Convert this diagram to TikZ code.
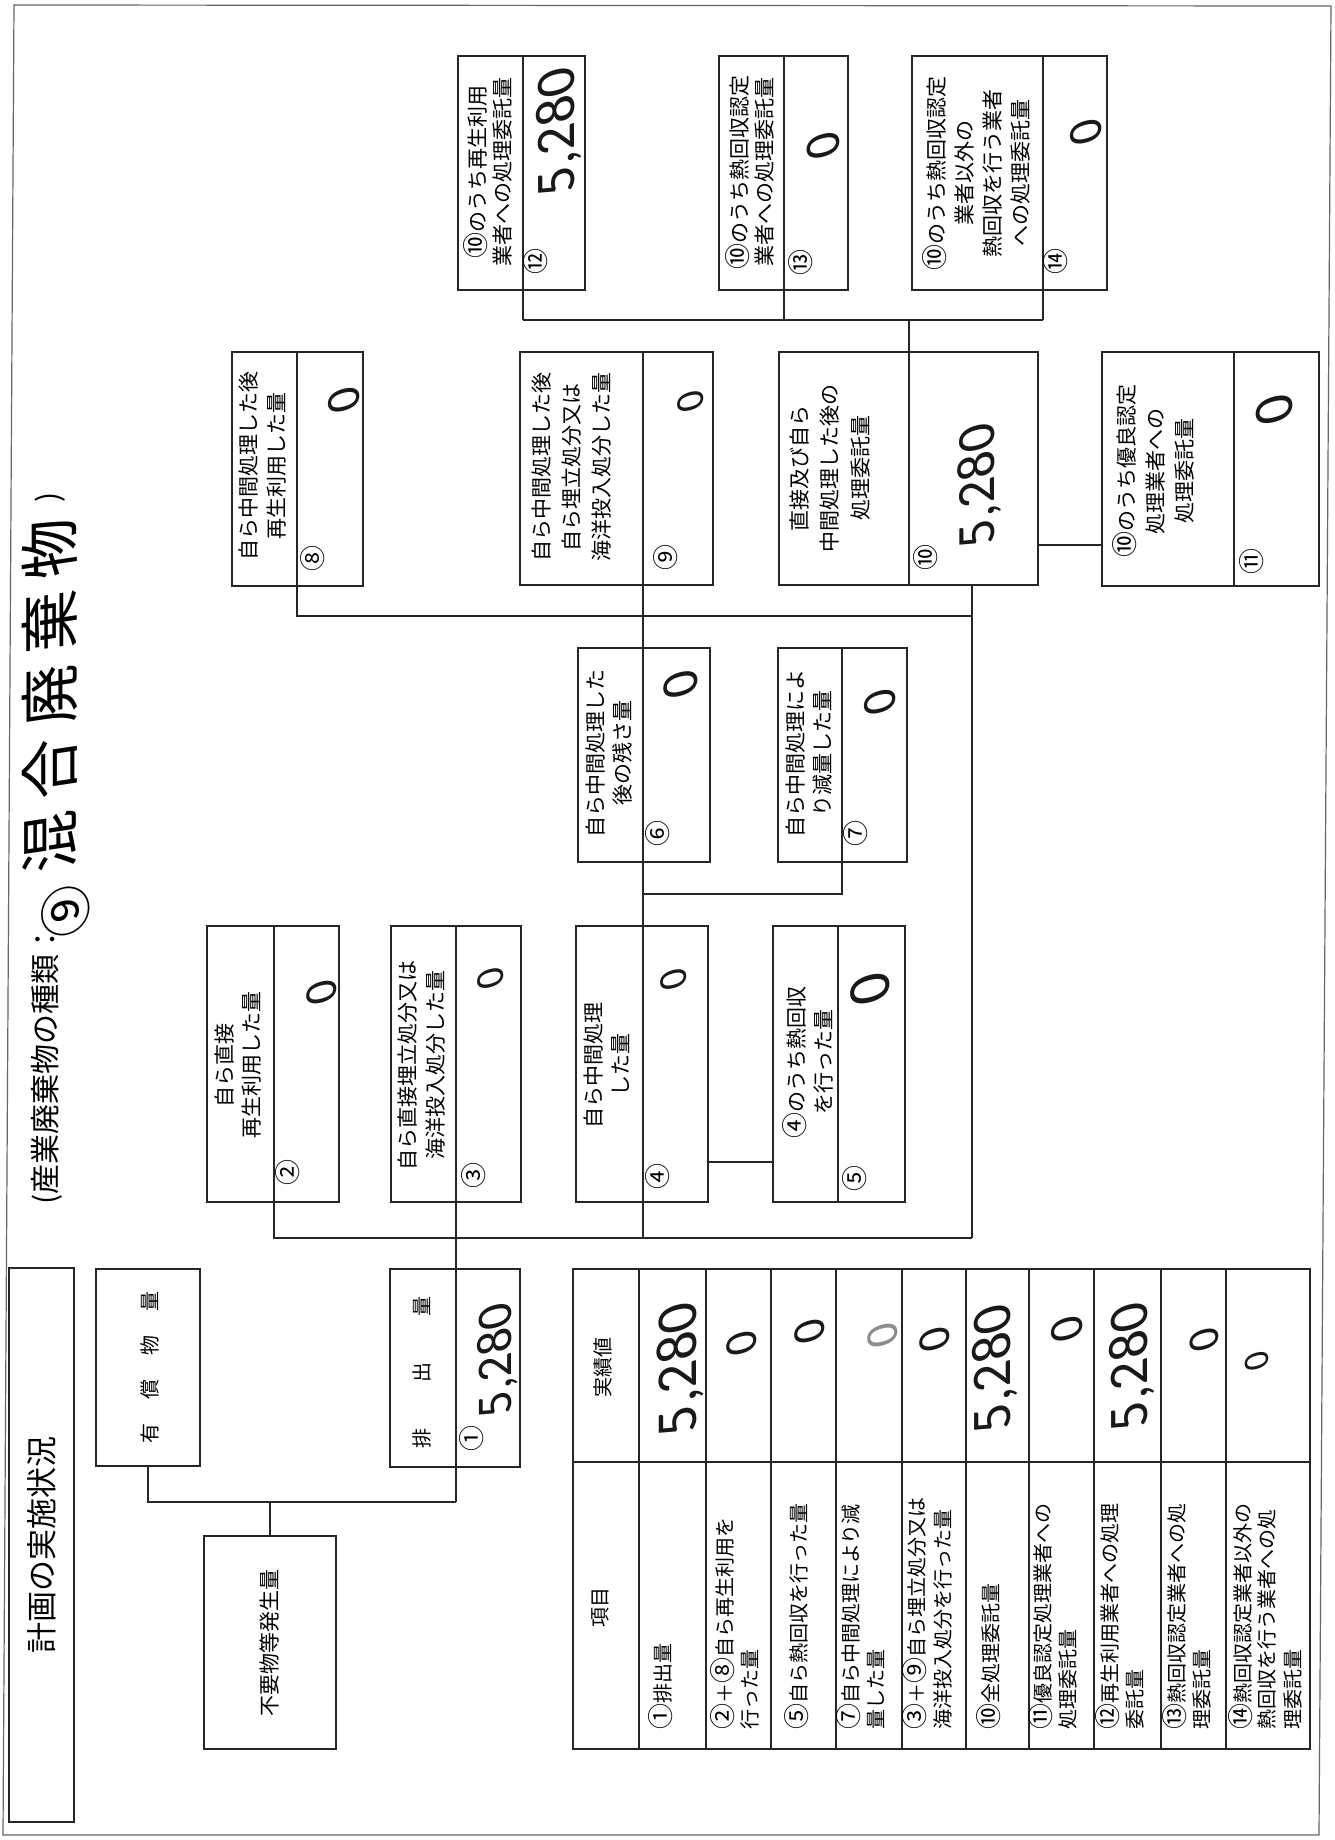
\documentclass[tikz,border=0pt]{standalone}
\usepackage{fontspec}
\newfontfamily\jp{Noto Sans CJK JP}
\newfontfamily\hw{Carlito}[FakeSlant=-0.25]
\newfontfamily\hwjp{Noto Sans CJK JP}[FakeSlant=-0.15]
\newcommand\cc[1]{{\fontsize{26}{26}\selectfont#1}}
\tikzset{
  ln/.style={draw=black!85, line width=1.4pt},
  frm/.style={draw=black!60, line width=1.2pt},
  boxn/.style={draw=black!85, line width=1.4pt, inner sep=0pt, outer sep=0pt, anchor=north west},
  lbl/.style={rotate=90, inner sep=0pt, align=center, font=\jp\fontsize{21}{27}\selectfont},
  cn/.style={rotate=90, inner sep=0pt, font=\jp\fontsize{26}{26}\selectfont},
  hd/.style={rotate=90, inner sep=0pt, font=\jp\fontsize{20}{20}\selectfont},
  row/.style={rotate=90, inner sep=0pt, anchor=west, font=\jp\fontsize{20}{20}\selectfont},
  hv/.style={rotate=90, inner sep=0pt, text=black!90, font=\hw\fontsize{#1}{#1}\selectfont},
}
\newcommand\formbox[6]{%
  \node[boxn, minimum width={(#4-#2)*1pt}, minimum height={(#5-#3)*1pt}] (#1) at (#2,#3) {};
  \coordinate (#1t) at (#6,#3);
  \coordinate (#1b) at (#6,#5);
}
\newcommand\plainbox[5]{%
  \node[boxn, minimum width={(#4-#2)*1pt}, minimum height={(#5-#3)*1pt}] (#1) at (#2,#3) {};
}
\begin{document}
\begin{tikzpicture}[x=1pt,y=-1pt]
\useasboundingbox (0,0) rectangle (1334,1840);
\fill[white] (0,0) rectangle (1334,1840);
% outer frame
\draw[frm] (14,5) -- (1331,6) -- (1319,1835) -- (3,1835) -- cycle;

% boxes
\plainbox{kk}{9}{1268}{74}{1822}
\plainbox{yu}{96}{1269}{200}{1466}
\formbox{hai}{390}{1269}{520}{1467}{456}
\plainbox{fu}{204}{1536}{336}{1749}
\formbox{b2}{207}{926}{339}{1202}{274}
\formbox{b3}{391}{926}{521}{1202}{456}
\formbox{b4}{576}{926}{708}{1202}{643}
\formbox{b5}{773}{926}{905}{1202}{838}
\formbox{b6}{578}{648}{710}{862}{643}
\formbox{b7}{778}{648}{907}{862}{842}
\formbox{b8}{232}{352}{363}{586}{297}
\formbox{b9}{520}{352}{713}{585}{643}
\formbox{b10}{779}{352}{1038}{585}{909}
\formbox{b11}{1102}{352}{1319}{586}{1234}
\formbox{b12}{458}{56}{585}{290}{523}
\formbox{b13}{719}{56}{848}{290}{784}
\formbox{b14}{912}{56}{1107}{290}{1043}
\plainbox{tb}{573}{1269}{1310}{1749}

% junction coordinates
\coordinate (j12) at (523,320);
\coordinate (j13) at (784,320);
\coordinate (j14) at (1043,320);
\coordinate (j10) at (909,320);
\coordinate (k10) at (0,545);
\coordinate (v10) at (972,585);
\coordinate (h2e) at (972,616);
\coordinate (h1e) at (972,1238);
\coordinate (h2a) at (297,616);
\coordinate (h1c) at (643,1238);
\coordinate (j7) at (842,894);
\coordinate (j6) at (643,894);
\coordinate (k45) at (0,1162);
\coordinate (h1a) at (274,1238);
\coordinate (h0b) at (456,1502);
\coordinate (h0a) at (148,1502);
\coordinate (h0f) at (270,1502);

% connectors and split lines
\draw[ln] (b12t) -- (b12b) -- (j12);
\draw[ln] (b13t) -- (b13b) -- (j13);
\draw[ln] (b14t) -- (b14b) -- (j14);
\draw[ln] (j12) -- (j14);
\draw[ln] (j10) -- (b10t) -- (b10b);
\draw[ln] (b10.east |- k10) -- (b11.west |- k10);
\draw[ln] (b11t) -- (b11b);
\draw[ln] (v10) -- (h2e) -- (h1e);
\draw[ln] (b8t) -- (b8b) -- (h2a) -- (h2e);
\draw[ln] (b9t) -- (h1c);
\draw[ln] (b7t) -- (b7b) -- (j7) -- (j6);
\draw[ln] (b4.east |- k45) -- (b5.west |- k45);
\draw[ln] (b5t) -- (b5b);
\draw[ln] (b2t) -- (b2b) -- (h1a) -- (h1e);
\draw[ln] (b3t) -- (h0b);
\draw[ln] (yu.south) -- (h0a) -- (h0b);
\draw[ln] (fu.north) -- (h0f);

% table grid
\foreach \xx in {639,706,771,836,902,966,1029,1094,1161,1226}
  \draw[ln] (\xx,1269) -- (\xx,1749);
\draw[ln] (573,1462) -- (1310,1462);

% titles
\node[lbl, font=\jp\fontsize{31}{31}\selectfont] (tkk) at (42,1545) {計画の実施状況};
\node[rotate=90, anchor=west, inner sep=0pt, font=\jp\fontsize{30}{30}\selectfont] (ttl) at (47,1205) {(産業廃棄物の種類：};
\node[rotate=90, inner sep=0pt, font=\jp\fontsize{30}{30}\selectfont] (tpar) at (50,497) {)};
\node[rotate=90, inner sep=0pt, font=\hwjp\fontsize{52}{52}\selectfont] (tn9) at (66,908) {⑨};
\node[rotate=90, inner sep=0pt, font=\hwjp\fontsize{60}{60}\selectfont\addfontfeature{LetterSpace=22}] (thw) at (50,692) {混合廃棄物};

% upper-left boxes
\node[lbl, font=\jp\fontsize{20}{20}\selectfont] (tyu) at (150,1367) {有\hspace{24pt}償\hspace{24pt}物\hspace{24pt}量};
\node[lbl, font=\jp\fontsize{20}{20}\selectfont] (tha) at (422,1372) {排\hspace{46pt}出\hspace{46pt}量};
\node[lbl] (tfu) at (270,1643) {不要物等発生量};

% box labels
\node[lbl] (l2) at (238,1065) {自ら直接\\再生利用した量};
\node[lbl, font=\jp\fontsize{21}{28}\selectfont] (l3) at (422,1065) {自ら直接埋立処分又は\\海洋投入処分した量};
\node[lbl] (l4) at (607,1065) {自ら中間処理\\した量};
\node[lbl] (l5) at (808,1062) {\cc{④}のうち熱回収\\を行った量};
\node[lbl] (l6) at (609,753) {自ら中間処理した\\後の残さ量};
\node[lbl] (l7) at (809,753) {自ら中間処理によ\\り減量した量};
\node[lbl, font=\jp\fontsize{21}{28}\selectfont] (l8) at (263,466) {自ら中間処理した後\\再生利用した量};
\node[lbl, font=\jp\fontsize{21}{30}\selectfont] (l9) at (572,467) {自ら中間処理した後\\自ら埋立処分又は\\海洋投入処分した量};
\node[lbl, font=\jp\fontsize{21}{31}\selectfont] (l10) at (830,468) {直接及び自ら\\中間処理した後の\\処理委託量};
\node[lbl, font=\jp\fontsize{21}{29}\selectfont] (l11) at (1153,471) {\cc{⑩}のうち優良認定\\処理業者への\\処理委託量};
\node[lbl, font=\jp\fontsize{21}{25}\selectfont] (l12) at (488,172) {\cc{⑩}のうち再生利用\\業者への処理委託量};
\node[lbl, font=\jp\fontsize{21}{25}\selectfont] (l13) at (750,172) {\cc{⑩}のうち熱回収認定\\業者への処理委託量};
\node[lbl, font=\jp\fontsize{21}{28}\selectfont] (l14) at (976,173) {\cc{⑩}のうち熱回収認定\\業者以外の\\熱回収を行う業者\\への処理委託量};

% circled numbers in value parts
\node[cn] (n1) at (472,1438) {①};
\node[cn] (n2) at (288,1172) {②};
\node[cn] (n3) at (474,1175) {③};
\node[cn] (n4) at (658,1176) {④};
\node[cn] (n5) at (855,1178) {⑤};
\node[cn] (n6) at (658,833) {⑥};
\node[cn] (n7) at (856,833) {⑦};
\node[cn] (n8) at (313,558) {⑧};
\node[cn] (n9) at (666,557) {⑨};
\node[cn] (n10) at (926,557) {⑩};
\node[cn] (n11) at (1252,561) {⑪};
\node[cn] (n12) at (536,261) {⑫};
\node[cn] (n13) at (801,262) {⑬};
\node[cn] (n14) at (1056,261) {⑭};

% handwritten values in boxes
\node[hv=50] (v1) at (498,1357) {5,280};
\node[hv=46] (v2) at (322,989) {0};
\node[hv=40] (v3) at (491,975) {0};
\node[hv=40] (v4) at (674,976) {0};
\node[hv=60] (v5) at (870,984) {0};
\node[hv=52] (v6) at (681,680) {0};
\node[hv=48] (v7) at (880,698) {0};
\node[hv=48] (v8) at (344,396) {0};
\node[hv=40] (v9) at (691,398) {0};
\node[hv=54] (v10v) at (979,482) {5,280};
\node[hv=56] (v11) at (1275,405) {0};
\node[hv=56] (v12) at (559,128) {5,280};
\node[hv=50] (v13) at (823,142) {0};
\node[hv=48] (v14) at (1086,128) {0};

% table texts
\node[hd] (th1) at (600,1607) {項目};
\node[hd] (th2) at (603,1367) {実績値};
\node[row] (r1) at (661,1730) {\cc{①}排出量};
\node[row] (r2a) at (723,1730) {\cc{②}＋\cc{⑧}自ら再生利用を};
\node[row] (r2b) at (750,1730) {行った量};
\node[row] (r3) at (797,1730) {\cc{⑤}自ら熱回収を行った量};
\node[row] (r4a) at (849,1730) {\cc{⑦}自ら中間処理により減};
\node[row] (r4b) at (876,1730) {量した量};
\node[row] (r5a) at (915,1730) {\cc{③}＋\cc{⑨}自ら埋立処分又は};
\node[row] (r5b) at (943,1730) {海洋投入処分を行った量};
\node[row] (r6) at (989,1730) {\cc{⑩}全処理委託量};
\node[row] (r7a) at (1041,1730) {\cc{⑪}優良認定処理業者への};
\node[row] (r7b) at (1068,1730) {処理委託量};
\node[row] (r8a) at (1108,1730) {\cc{⑫}再生利用業者への処理};
\node[row] (r8b) at (1135,1730) {委託量};
\node[row] (r9a) at (1175,1730) {\cc{⑬}熱回収認定業者への処};
\node[row] (r9b) at (1202,1730) {理委託量};
\node[row] (r10a) at (1241,1730) {\cc{⑭}熱回収認定業者以外の};
\node[row] (r10b) at (1267,1730) {熱回収を行う業者への処};
\node[row] (r10c) at (1293,1730) {理委託量};

% table values
\node[hv=58] (w1) at (680,1365) {5,280};
\node[hv=46] (w2) at (742,1340) {0};
\node[hv=46] (w3) at (810,1328) {0};
\node[hv=46, text=black!45] (w4) at (883,1332) {0};
\node[hv=46] (w5) at (935,1336) {0};
\node[hv=56] (w6) at (995,1365) {5,280};
\node[hv=48] (w7) at (1067,1325) {0};
\node[hv=56] (w8) at (1132,1363) {5,280};
\node[hv=44] (w9) at (1204,1336) {0};
\node[hv=36] (w10) at (1257,1358) {0};
\end{tikzpicture}
\end{document}
